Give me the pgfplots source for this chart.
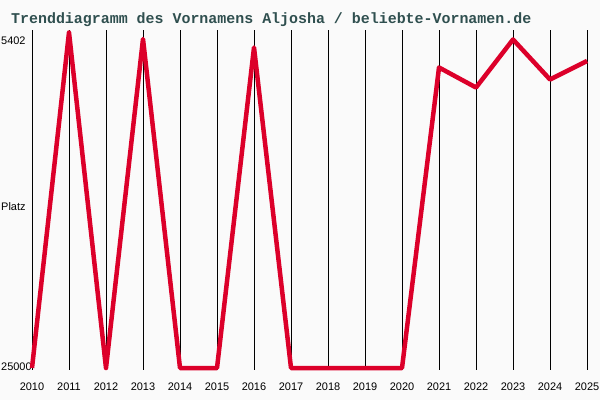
\documentclass[border=0pt]{standalone}
\usepackage{fontspec}
\usepackage{pgfplots}
\pgfplotsset{compat=1.18}
\setmainfont{Liberation Sans}
\newfontfamily\titlefont{Liberation Mono}
\definecolor{bgc}{HTML}{FAFAFA}
\definecolor{titc}{HTML}{2F4F4F}
\definecolor{linec}{RGB}{220,0,42}

\begin{document}
\begin{tikzpicture}[x=1bp,y=1bp]
\fill[bgc] (0,0) rectangle (600,400);
\useasboundingbox (0,0) rectangle (600,400);
\begin{axis}[
    at={(32bp,30bp)}, anchor=south west,
    scale only axis,
    width=555bp, height=340bp,
    xmin=2010, xmax=2025,
    ymin=5256, ymax=25117,
    y dir=reverse,
    axis line style={draw=none},
    clip=false,
    xtick={2010,2011,...,2025},
    xticklabel style={font=\fontsize{11}{12}\selectfont, anchor=center, yshift=-17bp},
    /pgf/number format/1000 sep={},
    /pgf/number format/assume math mode=true,
    scaled y ticks=false,
    xmajorgrids=true,
    grid style={black, line width=0.8bp},
    major tick length=0pt,
    ytick={5898,15565,24942},
    yticklabels={5402,Platz,25000},
    yticklabel style={font=\fontsize{11}{12}\selectfont, anchor=west, inner sep=0pt, xshift=-31bp},
    title={Trenddiagramm des Vornamens Aljosha / beliebte-Vornamen.de},
    title style={font=\titlefont\bfseries\fontsize{15}{16}\selectfont, text=titc, at={(0,1)}, anchor=west, xshift=-21bp, yshift=4bp, inner sep=0pt},
]
\addplot[linec, line width=4.5bp, line join=round] coordinates {
    (2010,25000)
    (2011,5402)
    (2012,25000)
    (2013,5782)
    (2014,25000)
    (2015,25000)
    (2016,6278)
    (2017,25000)
    (2018,25000)
    (2019,25000)
    (2020,25000)
    (2021,7446)
    (2022,8615)
    (2023,5811)
    (2024,8147)
    (2025,7067)
};
\end{axis}
\end{tikzpicture}
\end{document}
